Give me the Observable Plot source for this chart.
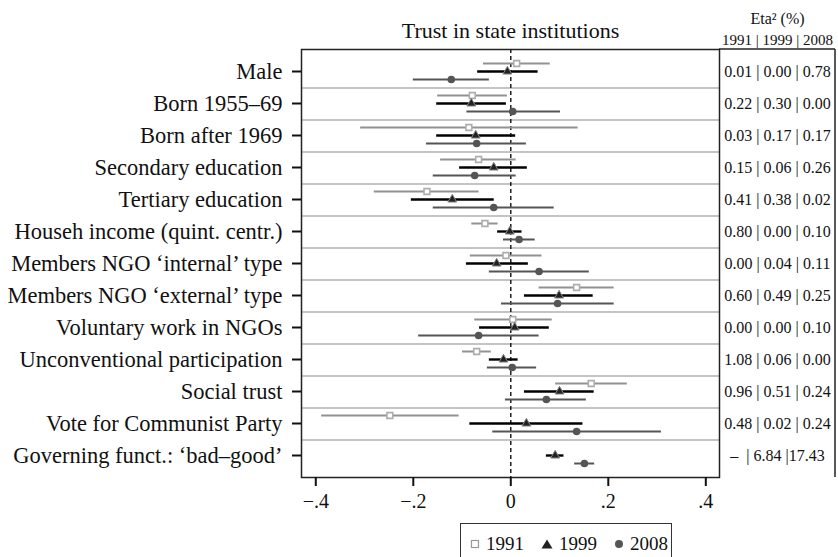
<!DOCTYPE html>
<html>
<head>
<meta charset="utf-8">
<script src="https://cdn.jsdelivr.net/npm/d3@7"></script>
<script src="https://cdn.jsdelivr.net/npm/@observablehq/plot@0.6"></script>
<style>
  html, body { margin: 0; padding: 0; background: #fff; }
  #wrap { position: relative; width: 838px; height: 557px; font-family: "Liberation Serif", serif; }
  #legend { position: absolute; left: 460px; top: 523px; width: 212px; height: 40px; border: 1.5px solid #333; box-sizing: border-box;
            display: flex; align-items: center; font-family: "Liberation Serif", serif; font-size: 19px; color: #111; padding-left: 9px; padding-top: 2px; }
  #legend span.item { display: inline-flex; align-items: center; margin-right: 17px; font-family: "Liberation Serif", serif; }
  #legend svg { margin-right: 6px; }
</style>
</head>
<body>
<div id="wrap"></div>
<script>
const categories = [
  "Male",
  "Born 1955–69",
  "Born after 1969",
  "Secondary education",
  "Tertiary education",
  "Househ income (quint. centr.)",
  "Members NGO ‘internal’ type",
  "Members NGO ‘external’ type",
  "Voluntary work in NGOs",
  "Unconventional participation",
  "Social trust",
  "Vote for Communist Party",
  "Governing funct.: ‘bad–good’"
];
const est1991 = [0.012, -0.079, -0.086, -0.066, -0.172, -0.053, -0.010, 0.135, 0.004, -0.070, 0.165, -0.248, null];
const lo1991  = [-0.056, -0.150, -0.308, -0.144, -0.280, -0.080, -0.083, 0.058, -0.074, -0.099, 0.092, -0.388, null];
const hi1991  = [0.081, -0.007, 0.138, 0.011, -0.065, -0.026, 0.064, 0.212, 0.085, -0.040, 0.239, -0.106, null];
const est1999 = [-0.007, -0.081, -0.072, -0.035, -0.120, -0.002, -0.029, 0.099, 0.008, -0.015, 0.100, 0.032, 0.091];
const lo1999  = [-0.068, -0.152, -0.152, -0.105, -0.204, -0.027, -0.091, 0.028, -0.064, -0.044, 0.028, -0.084, 0.073];
const hi1999  = [0.056, -0.009, 0.010, 0.034, -0.034, 0.023, 0.036, 0.169, 0.079, 0.015, 0.171, 0.148, 0.109];
const est2008 = [-0.122, 0.004, -0.070, -0.074, -0.035, 0.017, 0.058, 0.096, -0.066, 0.003, 0.073, 0.135, 0.151];
const lo2008  = [-0.200, -0.090, -0.173, -0.159, -0.159, -0.015, -0.044, -0.019, -0.189, -0.048, -0.011, -0.037, 0.131];
const hi2008  = [-0.044, 0.102, 0.032, 0.011, 0.089, 0.050, 0.161, 0.212, 0.058, 0.053, 0.155, 0.309, 0.172];
const eta = [
  "0.01 | 0.00 | 0.78",
  "0.22 | 0.30 | 0.00",
  "0.03 | 0.17 | 0.17",
  "0.15 | 0.06 | 0.26",
  "0.41 | 0.38 | 0.02",
  "0.80 | 0.00 | 0.10",
  "0.00 | 0.04 | 0.11",
  "0.60 | 0.49 | 0.25",
  "0.00 | 0.00 | 0.10",
  "1.08 | 0.06 | 0.00",
  "0.96 | 0.51 | 0.24",
  "0.48 | 0.02 | 0.24",
  "–  | 6.84 |17.43"
];
const xTicks = [-0.4, -0.2, 0, 0.2, 0.4];
const years = ["1991", "1999", "2008"];
const title = "Trust in state institutions";
const etaTitle = "Eta² (%)";
const etaYears = "1991 | 1999 | 2008";

function rows(est, lo, hi) {
  return categories.map((c, i) => ({cat: c, est: est[i], lo: lo[i], hi: hi[i]})).filter(d => d.est != null);
}
const d1991 = rows(est1991, lo1991, hi1991);
const d1999 = rows(est1999, lo1999, hi1999);
const d2008 = rows(est2008, lo2008, hi2008);

const fmt = d => d === 0 ? "0" : (d < 0 ? "−" : "") + String(Math.abs(d)).replace(/^0/, "");

const FONT = "Liberation Serif, serif";
const W = 838, H = 557, mT = 49, mB = 80, mL = 301, mR = 119;
const step = (H - mT - mB) / categories.length;

const chart = Plot.plot({
  width: W, height: H,
  marginTop: mT, marginBottom: mB, marginLeft: mL, marginRight: mR,
  style: {fontFamily: FONT, fontSize: "22px", color: "#111", background: "#fff", overflow: "visible"},
  x: {domain: [-0.4293, 0.4281]},
  y: {type: "point", domain: categories, padding: 0.5},
  marks: [
    Plot.ruleY(categories.slice(0, -1), {dy: step / 2, stroke: "#c4c4c4", strokeWidth: 2}),
    Plot.ruleX([0], {stroke: "#111", strokeWidth: 1.4, strokeDasharray: "4,3"}),
    Plot.ruleY(d1991, {y: "cat", x1: "lo", x2: "hi", dy: -8, stroke: "#929292", strokeWidth: 2}),
    Plot.ruleY(d1999, {y: "cat", x1: "lo", x2: "hi", dy: 0, stroke: "#000", strokeWidth: 2.4}),
    Plot.ruleY(d2008, {y: "cat", x1: "lo", x2: "hi", dy: 8, stroke: "#555", strokeWidth: 2}),
    Plot.dot(d1991, {y: "cat", x: "est", dy: -8, symbol: "square", r: 3.3, fill: "#fff", stroke: "#adadad", strokeWidth: 1.6}),
    Plot.dot(d1999, {y: "cat", x: "est", dy: 0, symbol: "triangle", r: 3.3, fill: "#222", stroke: "#8a8a8a", strokeWidth: 1}),
    Plot.dot(d2008, {y: "cat", x: "est", dy: 8, symbol: "circle", r: 3.8, fill: "#555", stroke: "none"}),
    Plot.frame({stroke: "#222", strokeWidth: 1.5}),
    Plot.axisY({tickSize: 9, tickPadding: 10, strokeWidth: 2, stroke: "#111", fontSize: 22.5, fontFamily: FONT, label: null}),
    Plot.axisX({ticks: xTicks, tickFormat: fmt, tickSize: 9, tickPadding: 7, strokeWidth: 2, stroke: "#111", fontSize: 20, fontFamily: FONT, label: null}),
    Plot.text([title], {frameAnchor: "top", lineAnchor: "middle", dy: -19, fontSize: 22, fontFamily: FONT, fill: "#111"}),
    Plot.text([etaTitle], {frameAnchor: "top-right", lineAnchor: "middle", dx: 58, dy: -31, textAnchor: "middle", fontSize: 16, fontFamily: FONT, fill: "#111"}),
    Plot.text([etaYears], {frameAnchor: "top-right", lineAnchor: "middle", dx: 58, dy: -9, textAnchor: "middle", fontSize: 15, fontFamily: FONT, fill: "#111"}),
    Plot.text(eta, {y: (d, i) => categories[i], frameAnchor: "right", lineAnchor: "middle", dx: 58, textAnchor: "middle", fontSize: 16, fontFamily: FONT, fill: "#111"})
  ]
});

// eta column box (decoration)
const g = d3.select(chart).append("g").attr("stroke", "#222").attr("stroke-width", 1.5);
g.append("line").attr("x1", W - mR).attr("x2", W - 3).attr("y1", mT).attr("y2", mT);
g.append("line").attr("x1", W - 3).attr("x2", W - 3).attr("y1", mT).attr("y2", H - mB);

document.getElementById("wrap").appendChild(chart);

// legend
const leg = document.createElement("div");
leg.id = "legend";
const sym = {
  "1991": '<svg width="10" height="10"><rect x="1.5" y="1.5" width="7" height="7" fill="#fff" stroke="#999" stroke-width="1.2"/></svg>',
  "1999": '<svg width="12" height="10"><path d="M6,0.5 L11.5,9.5 L0.5,9.5 Z" fill="#222"/></svg>',
  "2008": '<svg width="10" height="10"><circle cx="5" cy="5" r="4" fill="#555"/></svg>'
};
leg.innerHTML = years.map(y => `<span class="item">${sym[y]}${y}</span>`).join("");
document.getElementById("wrap").appendChild(leg);
</script>
</body>
</html>
